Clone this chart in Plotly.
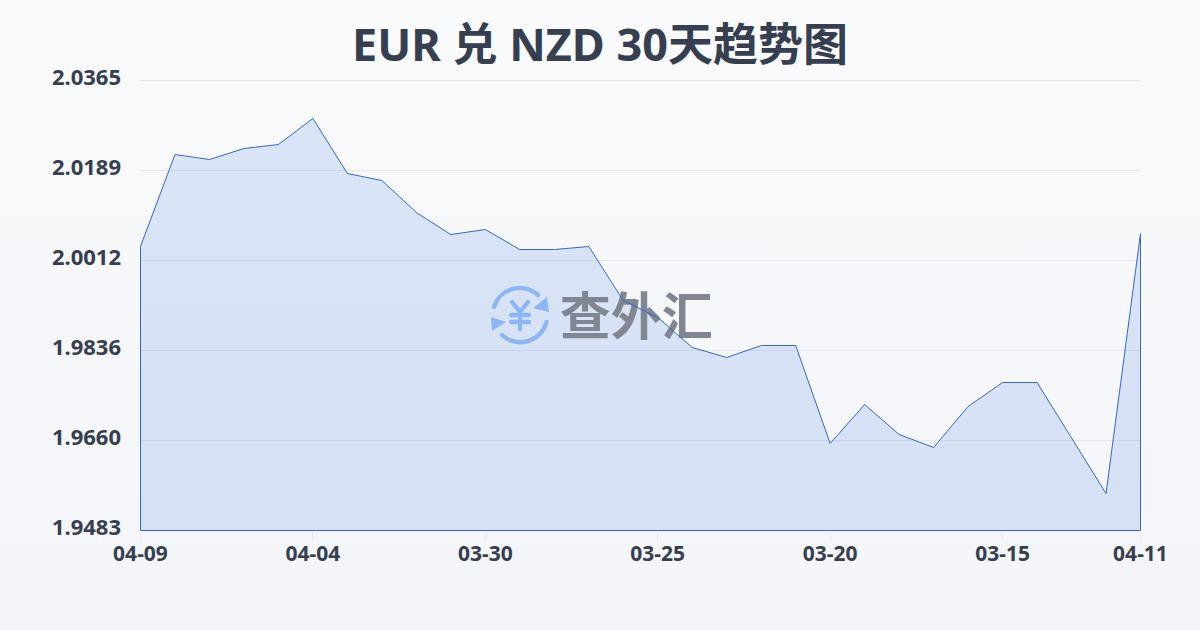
import base64
import plotly.graph_objects as go

TITLE = "EUR 兑 NZD 30天趋势图"
WATERMARK = "查外汇"
dates = ["04-09","04-08","04-07","04-06","04-05","04-04","04-03","04-02","04-01","03-31",
         "03-30","03-29","03-28","03-27","03-26","03-25","03-24","03-23","03-22","03-21",
         "03-20","03-19","03-18","03-17","03-16","03-15","03-14","03-13","03-12","04-11"]
rates = [2.00396,2.02199,2.02101,2.02317,2.02395,2.02905,2.01827,2.01690,2.01063,2.00631,
         2.00729,2.00337,2.00337,2.00396,1.99338,1.99005,1.98417,1.98221,1.98456,1.98456,
         1.96535,1.97299,1.96711,1.96457,1.97260,1.97731,1.97731,1.96653,1.95555,2.00651]
y_ticks = [1.9483, 1.9660, 1.9836, 2.0012, 2.0189, 2.0365]
y_labels = ["1.9483", "1.9660", "1.9836", "2.0012", "2.0189", "2.0365"]
x_tick_idx = [0, 5, 10, 15, 20, 25, 29]
Y_MIN, Y_MAX = 1.9483, 2.0365

idx = list(range(len(dates)))
INK = "#353f50"
BLUE = "#3567c8"
GRID = "#e4e7ee"
FONT = "Noto Sans, Noto Sans CJK SC"

# Plot box is one pixel larger than the drawn span, so axis ends land on half pixels and render crisp.
L, T, W, H = 140, 80, 1001, 451
x_pad = 0.5 * 29 / 1000
y_pad = 0.5 * (Y_MAX - Y_MIN) / 450

def svg_uri(s):
    return "data:image/svg+xml;base64," + base64.b64encode(s.encode()).decode()

bg = svg_uri('<svg xmlns="http://www.w3.org/2000/svg" width="1200" height="630" preserveAspectRatio="none">'
             '<defs><linearGradient id="g" x1="0" y1="0" x2="0" y2="1"><stop offset="0" stop-color="#f8fafc"/>'
             '<stop offset="1" stop-color="#f3f5f8"/></linearGradient></defs>'
             '<rect width="1200" height="630" fill="url(#g)"/></svg>')
logo = svg_uri('<svg xmlns="http://www.w3.org/2000/svg" width="64" height="64" viewBox="0 0 64 64">'
               '<g fill="none" stroke="#8db6f6" stroke-width="4.4" stroke-linecap="round" stroke-linejoin="round">'
               '<path d="M6 24 A 27 27 0 0 1 50 12"/><path d="M58.5 39 A 27 27 0 0 1 14 52"/>'
               '<path d="M24 19 L32 29 L40 19 M32 29 L32 46 M23 32 L41 32 M23 39 L41 39"/></g>'
               '<path d="M61 29 L59 14 L45 25 Z" fill="#8db6f6"/><path d="M3 34 L4 48 L18 39 Z" fill="#8db6f6"/></svg>')

fig = go.Figure()
fig.add_trace(go.Scatter(
    x=idx + [idx[-1], idx[0], idx[0]],
    y=rates + [Y_MIN, Y_MIN, rates[0]],
    mode="lines", fill="toself", fillcolor="rgba(50,105,225,0.15)",
    line=dict(color="rgba(0,0,0,0)", width=0),
    hoverinfo="skip", showlegend=False))
fig.add_trace(go.Scatter(
    x=[14.38], y=[1.98902], mode="text", text=[WATERMARK],
    textposition="middle center",
    textfont=dict(family="Noto Sans CJK SC", size=51, weight=700, color="#808692"),
    hoverinfo="skip", showlegend=False))
fig.add_trace(go.Scatter(
    x=idx + [idx[-1], idx[0], idx[0]],
    y=rates + [Y_MIN, Y_MIN, rates[0]],
    mode="lines", line=dict(color=BLUE, width=1),
    hoverinfo="skip", showlegend=False))

fig.update_layout(
    width=1200, height=630,
    margin=dict(l=L, r=1200 - L - W, t=T, b=630 - T - H),
    paper_bgcolor="#f6f7fa", plot_bgcolor="rgba(0,0,0,0)",
    title=dict(text=TITLE, x=0.5, xanchor="center", xref="container", yref="container", y=0.928, yanchor="middle",
               font=dict(family=FONT, size=45, weight=700, color=INK)),
    xaxis=dict(range=[-x_pad, 29 + x_pad], tickvals=x_tick_idx, ticktext=[dates[i] for i in x_tick_idx],
               showgrid=False, zeroline=False, showline=False, ticks="outside", ticklen=9, tickwidth=1,
               tickcolor="#e8eaee", ticklabelstandoff=-5,
               tickfont=dict(family="Noto Sans", size=21, weight=700, color=INK)),
    yaxis=dict(range=[Y_MIN - y_pad, Y_MAX + y_pad], tickvals=y_ticks, ticktext=y_labels,
               showgrid=True, gridcolor=GRID, gridwidth=1, zeroline=False, showline=False,
               ticks="", ticklabelstandoff=18, ticklabelshift=-3,
               tickfont=dict(family="Noto Sans", size=22, weight=700, color=INK)),
    shapes=[dict(type="line", xref="x", x0=0, x1=29, yref="y", y0=Y_MAX, y1=Y_MAX,
                 line=dict(color=GRID, width=1), layer="below")],
    images=[
        dict(source=bg, xref="paper", yref="paper", x=-L / W, y=1 + T / H, sizex=1200 / W, sizey=630 / H,
             sizing="stretch", xanchor="left", yanchor="top", layer="below"),
        dict(source=logo, xref="paper", yref="paper", x=(520 - L) / W, y=(T + H - 315) / H, sizex=64 / W, sizey=64 / H,
             sizing="stretch", xanchor="center", yanchor="middle", layer="above"),
    ],
)
fig.write_html("out.html", config={"displayModeBar": False},
               post_script="document.body.style.margin='0';document.body.style.overflow='hidden';")
